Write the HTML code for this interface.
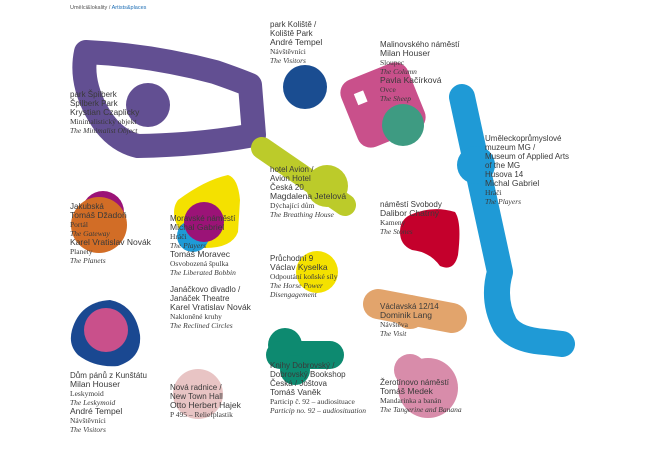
<!DOCTYPE html>
<html><head><meta charset="utf-8"><style>
body{margin:0;width:650px;height:450px;background:#fff;overflow:hidden;position:relative;font-family:"Liberation Sans",sans-serif}
svg{position:absolute;left:0;top:0}
.t{position:absolute;font-size:8px;line-height:9px;color:#3a3a3a;white-space:nowrap}
.t .s{font-family:"Liberation Serif",serif;font-size:7.5px;display:block}
.t .i{font-family:"Liberation Serif",serif;font-style:italic;font-size:7.5px;display:block}
.t .n{font-size:8.5px;display:block}
.hd{position:absolute;left:70px;top:5px;font-size:5.5px;color:#555}
</style></head><body>
<svg width="650" height="450" viewBox="0 0 650 450">
<path d="M86,52 Q150,55 215,72 Q238,80 250,85 L254,135 Q200,145 138,146 Q112,140 96,110 Q80,80 86,52Z" fill="none" stroke="#624f92" stroke-width="24" stroke-linejoin="round"/>
<circle cx="148" cy="105" r="22" fill="#624f92"/>
<circle cx="305" cy="87" r="22" fill="#1a4d91"/>
<g transform="rotate(-22 383 105)"><rect x="347" y="69" width="72" height="72" rx="14" fill="#c9508b"/><rect x="360" y="84" width="10" height="12" fill="#fff"/></g>
<circle cx="403" cy="125" r="21" fill="#3e9b82"/>
<path d="M462,97 L500,272 Q492,300 505,325 Q515,340 545,342 L562,344" fill="none" stroke="#1f9ad6" stroke-width="26" stroke-linecap="round" stroke-linejoin="round"/>
<circle cx="476" cy="165" r="19" fill="#1f9ad6"/>
<path d="M262,148 L345,205" stroke="#bccb2a" stroke-width="22" stroke-linecap="round"/>
<circle cx="327" cy="186" r="21" fill="#bccb2a"/>
<path d="M178,200 Q205,180 228,175 Q238,178 240,200 L238,232 Q232,248 205,248 Q182,240 175,220 Q172,208 178,200Z" fill="#f4e100"/>
<circle cx="193" cy="236" r="16" fill="#1f9ad6"/>
<circle cx="204" cy="222" r="20" fill="#9b1377"/>
<circle cx="103" cy="212" r="21" fill="#9b1377"/>
<circle cx="99" cy="225" r="28" fill="#d26d26"/>
<path d="M410,215 Q432,205 455,212 Q462,222 458,255 Q454,272 440,266 Q430,252 412,250 Q400,245 400,232 Q400,220 410,215Z" fill="#c4002c"/>
<circle cx="317" cy="272" r="21" fill="#f4e100"/>
<path d="M72,330 Q80,302 110,300 Q135,305 140,335 Q142,358 118,366 Q95,368 78,355 Q68,345 72,330Z" fill="#1a4891"/>
<circle cx="106" cy="330" r="22" fill="#c9508b"/>
<path d="M378,304 L452,318" stroke="#e2a46c" stroke-width="30" stroke-linecap="round"/>
<circle cx="410" cy="312" r="17" fill="#e2a46c"/>
<circle cx="285" cy="345" r="17" fill="#0d8a70"/>
<path d="M280,355 L330,355" stroke="#0d8a70" stroke-width="28" stroke-linecap="round"/>
<circle cx="295" cy="370" r="15" fill="#0d8a70"/>
<circle cx="198" cy="394" r="25" fill="#e8c4c4"/>
<circle cx="428" cy="388" r="30" fill="#d88caa"/>
<circle cx="410" cy="370" r="16" fill="#d88caa"/>
</svg>
<div class="hd">Umělci&amp;lokality / <span style="color:#1f6fb5">Artists&amp;places</span></div>
<div class="t" style="left:70px;top:90px">park Špilberk<br>Špilberk Park<span class="n">Krystian Czaplicky</span><span class="s">Minimalistický objekt</span><span class="i">The Minimalist Object</span></div>
<div class="t" style="left:270px;top:20px">park Koliště /<br>Koliště Park<span class="n">André Tempel</span><span class="s">Návštěvníci</span><span class="i">The Visitors</span></div>
<div class="t" style="left:380px;top:40px">Malinovského náměstí<span class="n">Milan Houser</span><span class="s">Sloupec</span><span class="i">The Column</span><span class="n">Pavla Kačírková</span><span class="s">Ovce</span><span class="i">The Sheep</span></div>
<div class="t" style="left:485px;top:134px">Uměleckoprůmyslové<br>muzeum MG /<br>Museum of Applied Arts<br>of the MG<br>Husova 14<span class="n">Michal Gabriel</span><span class="s">Hráči</span><span class="i">The Players</span></div>
<div class="t" style="left:270px;top:165px">hotel Avion /<br>Avion Hotel<br>Česká 20<span class="n">Magdalena Jetelová</span><span class="s">Dýchající dům</span><span class="i">The Breathing House</span></div>
<div class="t" style="left:70px;top:202px">Jakubská<span class="n">Tomáš Džadoň</span><span class="s">Portál</span><span class="i">The Gateway</span><span class="n">Karel Vratislav Novák</span><span class="s">Planety</span><span class="i">The Planets</span></div>
<div class="t" style="left:170px;top:214px">Moravské náměstí<span class="n">Michal Gabriel</span><span class="s">Hráči</span><span class="i">The Players</span><span class="n">Tomáš Moravec</span><span class="s">Osvobozená špulka</span><span class="i">The Liberated Bobbin</span></div>
<div class="t" style="left:380px;top:200px">náměstí Svobody<span class="n">Dalibor Chatrný</span><span class="s">Kameny</span><span class="i">The Stones</span></div>
<div class="t" style="left:270px;top:254px">Průchodní 9<span class="n">Václav Kyselka</span><span class="s">Odpoutání koňské síly</span><span class="i">The Horse Power</span><span class="i">Disengagement</span></div>
<div class="t" style="left:170px;top:285px">Janáčkovo divadlo /<br>Janáček Theatre<span class="n">Karel Vratislav Novák</span><span class="s">Nakloněné kruhy</span><span class="i">The Reclined Circles</span></div>
<div class="t" style="left:380px;top:302px">Václavská 12/14<span class="n">Dominik Lang</span><span class="s">Návštěva</span><span class="i">The Visit</span></div>
<div class="t" style="left:70px;top:371px">Dům pánů z Kunštátu<span class="n">Milan Houser</span><span class="s">Leskymoid</span><span class="i">The Leskymoid</span><span class="n">André Tempel</span><span class="s">Návštěvníci</span><span class="i">The Visitors</span></div>
<div class="t" style="left:170px;top:383px">Nová radnice /<br>New Town Hall<span class="n">Otto Herbert Hajek</span><span class="s">P 495 – Reliefplastik</span></div>
<div class="t" style="left:270px;top:361px">Knihy Dobrovský /<br>Dobrovský Bookshop<br>Česká / Joštova<span class="n">Tomáš Vaněk</span><span class="s">Particip č. 92 – audiosituace</span><span class="i">Particip no. 92 – audiosituation</span></div>
<div class="t" style="left:380px;top:378px">Žerotínovo náměstí<span class="n">Tomáš Medek</span><span class="s">Mandarinka a banán</span><span class="i">The Tangerine and Banana</span></div>
</body></html>
